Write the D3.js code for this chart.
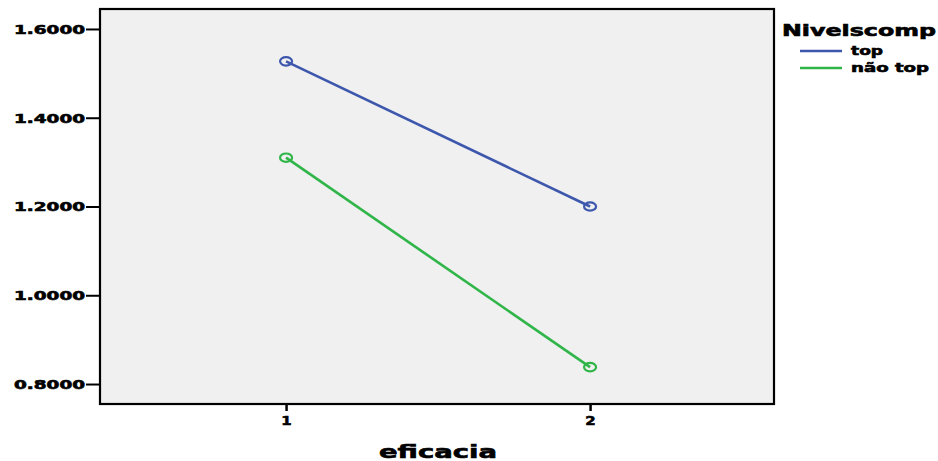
<!DOCTYPE html>
<html><head><meta charset="utf-8">
<script src="https://cdn.jsdelivr.net/npm/d3@7"></script>
<style>body{margin:0;background:#fff}svg{display:block}text{font-family:"DejaVu Sans",sans-serif;font-weight:bold;fill:#000;stroke:#000;stroke-width:0.6px}</style>
</head><body><svg id="c" width="938" height="461"></svg>
<script>
const categories = ["1", "2"];
const seriesNames = ["top", "não top"];
const topValues = [1.527, 1.200];
const naoTopValues = [1.310, 0.838];
const yTicks = [0.8, 1.0, 1.2, 1.4, 1.6];
const colors = ["#3d57ad", "#2fb548"];

const svg = d3.select("#c");
const L = 100, R = 774, T = 9, B = 404;
const x = d3.scaleLinear().domain([0.388, 2.605]).range([L, R]);
const y = d3.scaleLinear().domain([0.755, 1.645]).range([B, T]);

svg.append("rect").attr("x", L).attr("y", T).attr("width", R - L).attr("height", B - T)
  .attr("fill", "#f0f0f0").attr("stroke", "#000").attr("stroke-width", 2.2);

const yAxis = svg.append("g").attr("transform", `translate(${L},0)`)
  .call(d3.axisLeft(y).tickValues(yTicks).tickFormat(d3.format(".4f")).tickSize(14).tickPadding(1));
yAxis.select(".domain").remove();
yAxis.selectAll(".tick line").attr("stroke", "#000").attr("stroke-width", 2);
yAxis.selectAll(".tick text").attr("font-size", 12).attr("dy", "0.36em")
  .attr("textLength", 71).attr("lengthAdjust", "spacingAndGlyphs");

const xAxis = svg.append("g").attr("transform", `translate(0,${B})`)
  .call(d3.axisBottom(x).tickValues(categories.map(Number)).tickFormat(d => String(d)).tickSize(7).tickPadding(5));
xAxis.select(".domain").remove();
xAxis.selectAll(".tick line").attr("stroke", "#000").attr("stroke-width", 2.5);
xAxis.selectAll(".tick text").attr("font-size", 13).attr("transform", "scale(1.15,1)");

svg.append("text").attr("x", 438).attr("y", 458).attr("text-anchor", "middle")
  .attr("font-size", 18).attr("textLength", 118).attr("lengthAdjust", "spacingAndGlyphs").text("eficacia");

const data = [topValues, naoTopValues];
const line = d3.line().x((d, i) => x(+categories[i])).y(d => y(d));
data.forEach((vals, s) => {
  svg.append("path").attr("d", line(vals)).attr("fill", "none")
    .attr("stroke", colors[s]).attr("stroke-width", 2.6);
  svg.selectAll(null).data(vals).enter().append("ellipse")
    .attr("cx", (d, i) => x(+categories[i])).attr("cy", d => y(d))
    .attr("rx", 6).attr("ry", 4.2).attr("fill", "none")
    .attr("stroke", colors[s]).attr("stroke-width", 2.2);
});

svg.append("text").attr("x", 782).attr("y", 36).attr("font-size", 15)
  .attr("textLength", 154).attr("lengthAdjust", "spacingAndGlyphs").text("Nivelscomp");
const lw = [32, 78];
seriesNames.forEach((n, i) => {
  const yy = 51 + i * 17;
  svg.append("line").attr("x1", 800).attr("x2", 842).attr("y1", yy).attr("y2", yy)
    .attr("stroke", colors[i]).attr("stroke-width", 2.5);
  svg.append("text").attr("x", 851).attr("y", yy + 4).attr("font-size", 12)
    .attr("textLength", lw[i]).attr("lengthAdjust", "spacingAndGlyphs").text(n);
});
</script></body></html>
